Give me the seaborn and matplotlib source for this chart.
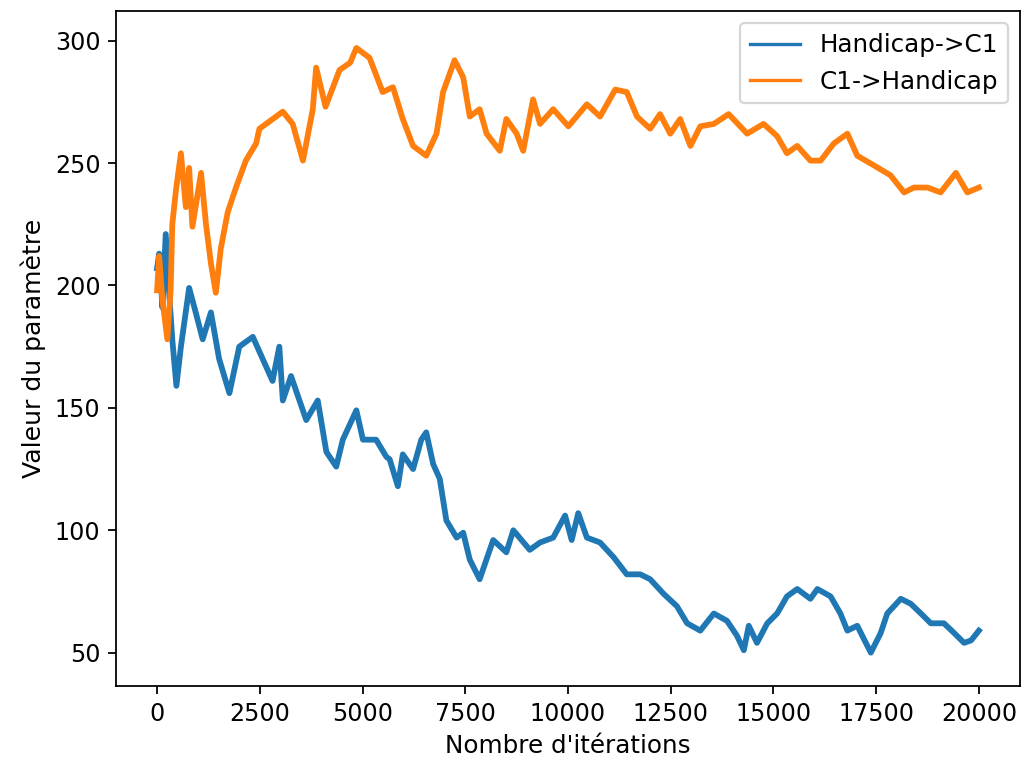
import pandas as pd
import seaborn as sns
import matplotlib
matplotlib.use("Agg")
import matplotlib.pyplot as plt

# values (iteration, parameter value)
iters_h = [0, 50, 130, 210, 290, 370, 470, 580, 780, 940, 1110, 1310, 1510, 1760,
           2000, 2330, 2570, 2810, 2975, 3060, 3260, 3630, 3910, 4120, 4360, 4520,
           4850, 5010, 5330, 5580, 5660, 5860, 5980, 6230, 6430, 6550, 6720, 6880,
           7040, 7290, 7450, 7610, 7850, 8180, 8500, 8670, 9070, 9320, 9640, 9930,
           10090, 10250, 10460, 10780, 11110, 11430, 11760, 12000, 12330, 12650,
           12900, 13220, 13550, 13870, 14110, 14280, 14400, 14600, 14850, 15090,
           15330, 15580, 15900, 16070, 16390, 16630, 16800, 17040, 17370, 17610,
           17770, 18100, 18340, 18590, 18830, 19150, 19400, 19640, 19810, 20000]
vals_h = [207, 213, 191, 221, 198, 178, 159, 175, 199, 189, 178, 189, 170, 156,
          175, 179, 170, 161, 175, 153, 163, 145, 153, 132, 126, 137,
          149, 137, 137, 130, 129, 118, 131, 125, 137, 140, 127, 121,
          104, 97, 99, 88, 80, 96, 91, 100, 92, 95, 97, 106,
          96, 107, 97, 95, 89, 82, 82, 80, 74, 69,
          62, 59, 66, 63, 57, 51, 61, 54, 62, 66,
          73, 76, 72, 76, 73, 66, 59, 61, 50, 58,
          66, 72, 70, 66, 62, 62, 58, 54, 55, 59]

iters_c = [0, 50, 130, 250, 330, 370, 460, 580, 700, 780, 860, 1070, 1190, 1310,
           1430, 1550, 1720, 1920, 2160, 2410, 2490, 3060, 3300, 3550, 3790, 3870,
           4100, 4440, 4700, 4850, 5170, 5490, 5740, 5980, 6230, 6550, 6800, 6960,
           7240, 7450, 7610, 7850, 8020, 8340, 8500, 8750, 8910, 9150, 9320, 9640,
           10010, 10460, 10780, 11150, 11430, 11680, 12000, 12240, 12490, 12730,
           12980, 13220, 13550, 13910, 14360, 14760, 15090, 15330, 15580, 15900,
           16150, 16470, 16800, 17040, 17450, 17850, 18180, 18420, 18750, 19070,
           19440, 19720, 20000]
vals_c = [198, 212, 194, 178, 198, 225, 239, 254, 232, 248, 224, 246, 225, 209,
          197, 215, 230, 240, 251, 258, 264, 271, 266, 251, 272, 289,
          273, 288, 291, 297, 293, 279, 281, 268, 257, 253, 262, 279,
          292, 285, 269, 272, 262, 255, 268, 262, 255, 276, 266, 272,
          265, 274, 269, 280, 279, 269, 264, 270, 262, 268,
          257, 265, 266, 270, 262, 266, 261, 254, 257, 251,
          251, 258, 262, 253, 249, 245, 238, 240, 240, 238,
          246, 238, 240]

labels = ["Handicap->C1", "C1->Handicap"]

df = pd.concat([
    pd.DataFrame({"iter": iters_h, "val": vals_h, "serie": labels[0]}),
    pd.DataFrame({"iter": iters_c, "val": vals_c, "serie": labels[1]}),
], ignore_index=True)

plt.rcParams['font.size'] = 11.1

fig, ax = plt.subplots(figsize=(1022 / 160, 761 / 160), dpi=160)
fig.subplots_adjust(left=0.1135, right=0.998, top=0.9855, bottom=0.0986)

sns.lineplot(data=df, x="iter", y="val", hue="serie", hue_order=labels,
             palette=["#1f77b4", "#ff7f0e"], estimator=None, sort=False,
             linewidth=2.6, ax=ax)

ax.set_xlim(-1000, 21000)
ax.set_ylim(36.4, 312.1)
ax.set_xticks(range(0, 20001, 2500))
ax.set_yticks([50, 100, 150, 200, 250, 300])
ax.tick_params(labelsize=10.7)
ax.set_xlabel("Nombre d'itérations", fontsize=11.1)
ax.set_ylabel("Valeur du paramètre", fontsize=11.3)

handles, labs = ax.get_legend_handles_labels()
for h in handles:
    h.set_linewidth(1.5)
ax.legend(handles, labs, loc="upper right", fontsize=11.1)

fig.savefig("out.png", dpi=160)
